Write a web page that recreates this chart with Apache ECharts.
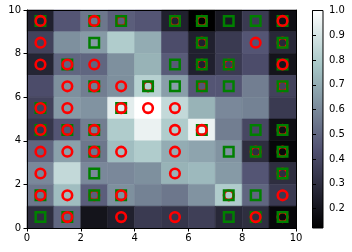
<!DOCTYPE html>
<html>
<head>
<meta charset="utf-8">
<script src="https://cdn.jsdelivr.net/npm/echarts@6/dist/echarts.min.js"></script>
<style>
  html, body { margin: 0; padding: 0; background: #fff; }
  #main { width: 352px; height: 252px; }
</style>
</head>
<body>
<div id="main"></div>
<script>
// distance map, top row (y=9) first, columns x=0..9
var distMap = [
  [0.25, 0.45, 0.55, 0.48, 0.45, 0.25, 0.12, 0.22, 0.35, 0.18],
  [0.38, 0.62, 0.65, 0.80, 0.70, 0.42, 0.25, 0.35, 0.45, 0.28],
  [0.27, 0.50, 0.50, 0.62, 0.72, 0.47, 0.25, 0.35, 0.42, 0.20],
  [0.42, 0.62, 0.57, 0.62, 0.82, 0.66, 0.45, 0.45, 0.57, 0.38],
  [0.38, 0.65, 0.63, 0.93, 1.00, 0.85, 0.72, 0.60, 0.58, 0.35],
  [0.33, 0.45, 0.57, 0.80, 0.95, 0.80, 0.95, 0.57, 0.40, 0.18],
  [0.50, 0.67, 0.55, 0.75, 0.80, 0.70, 0.68, 0.63, 0.30, 0.15],
  [0.60, 0.85, 0.60, 0.60, 0.62, 0.72, 0.74, 0.65, 0.45, 0.30],
  [0.55, 0.75, 0.48, 0.62, 0.58, 0.55, 0.63, 0.80, 0.50, 0.35],
  [0.30, 0.50, 0.20, 0.25, 0.35, 0.33, 0.37, 0.28, 0.30, 0.15]
];
var vMin = 0.122, vMax = 1.0;

// winning cells (x, y)
var circles = [
  [0,9],[2,9],[3,9],[5,9],[6,9],[9,9],
  [0,8],[6,8],[8,8],[9,8],
  [0,7],[1,7],[2,7],[6,7],[7,7],[9,7],
  [1,6],[2,6],[3,6],[4,6],[6,6],[9,6],
  [0,5],[1,5],[3,5],[4,5],[5,5],
  [0,4],[1,4],[2,4],[5,4],[6,4],[9,4],
  [0,3],[1,3],[2,3],[3,3],[5,3],[8,3],[9,3],
  [0,2],[5,2],[9,2],
  [0,1],[1,1],[2,1],[3,1],[7,1],[9,1],
  [1,0],[3,0],[5,0],[8,0],[9,0]
];
var squares = [
  [0,9],[2,9],[3,9],[5,9],[6,9],[7,9],[8,9],[9,9],
  [2,8],[6,8],[9,8],
  [1,7],[5,7],[6,7],[7,7],[9,7],
  [2,6],[4,6],[5,6],[6,6],[7,6],[9,6],
  [0,5],[3,5],
  [0,4],[1,4],[2,4],[6,4],[8,4],[9,4],
  [2,3],[7,3],[8,3],[9,3],
  [2,2],[9,2],
  [0,1],[2,1],[3,1],[7,1],[8,1],
  [0,0],[1,0],[7,0],[8,0],[9,0]
];
// squares drawn over the circle in the same cell
var squaresOnTop = [
  [3,9],[5,9],[6,9],[6,8],[9,8],[6,7],[7,7],[4,6],[6,6],[9,6],
  [9,4],[8,3],[9,3],[9,2],[2,1],[7,1],[9,0]
];
var axisTicks = [0, 2, 4, 6, 8, 10];
var cbarTicks = [0.2, 0.3, 0.4, 0.5, 0.6, 0.7, 0.8, 0.9, 1.0];

// matplotlib 'bone' colormap
function seg(pts, t) {
  for (var i = 1; i < pts.length; i++) {
    if (t <= pts[i][0]) {
      var a = pts[i - 1], b = pts[i];
      return a[1] + (b[1] - a[1]) * (t - a[0]) / (b[0] - a[0]);
    }
  }
  return pts[pts.length - 1][1];
}
function bone(t) {
  var r = seg([[0, 0], [0.746032, 0.652778], [1, 1]], t);
  var g = seg([[0, 0], [0.365079, 0.319444], [0.746032, 0.777778], [1, 1]], t);
  var b = seg([[0, 0], [0.365079, 0.444444], [1, 1]], t);
  return 'rgb(' + Math.round(r * 255) + ',' + Math.round(g * 255) + ',' + Math.round(b * 255) + ')';
}
var boneColors = [], boneStops = [];
for (var i = 0; i <= 40; i++) {
  boneColors.push(bone(i / 40));
  boneStops.push({ offset: 1 - i / 40, color: bone(i / 40) });
}
boneStops.reverse();

var cells = [];
distMap.forEach(function (row, r) {
  row.forEach(function (v, x) { cells.push([x, 9 - r, v]); });
});
function centre(list) {
  return list.map(function (p) { return [p[0] + 0.5, p[1] + 0.5]; });
}
function isTop(p) {
  return squaresOnTop.some(function (q) { return q[0] === p[0] && q[1] === p[1]; });
}
var squaresLow = squares.filter(function (p) { return !isTop(p); });

var font = { fontFamily: 'DejaVu Sans', fontSize: 10, color: '#000' };
var axisLine = { show: true, onZero: false, lineStyle: { color: '#000', width: 1 } };
var tick = { show: true, inside: false, length: 3.5, lineStyle: { color: '#000' } };
var squareStyle = { color: 'transparent', borderColor: '#008000', borderWidth: 2.5, opacity: 1 };
var circleStyle = { color: 'transparent', borderColor: '#ff0000', borderWidth: 2.6, opacity: 1 };

var chart = echarts.init(document.getElementById('main'), null, { renderer: 'canvas' });
chart.setOption({
  animation: false,
  backgroundColor: '#fff',
  grid: [
    { left: 27, top: 10, width: 269, height: 218 },
    { left: 312.5, top: 10.5, width: 10.5, height: 217.5 }
  ],
  xAxis: [
    { type: 'value', gridIndex: 0, min: 0, max: 10, interval: 2, position: 'bottom', z: 10,
      axisLine: axisLine, axisTick: tick, splitLine: { show: false },
      axisLabel: Object.assign({ margin: 5 }, font) },
    { type: 'value', gridIndex: 0, min: 0, max: 10, position: 'top', z: 10,
      axisLine: axisLine, axisTick: { show: false }, axisLabel: { show: false }, splitLine: { show: false } },
    { type: 'value', gridIndex: 1, min: 0, max: 1, show: false }
  ],
  yAxis: [
    { type: 'value', gridIndex: 0, min: 0, max: 10, interval: 2, position: 'left', z: 10,
      axisLine: axisLine, axisTick: tick, splitLine: { show: false },
      axisLabel: Object.assign({ margin: 6 }, font) },
    { type: 'value', gridIndex: 0, min: 0, max: 10, position: 'right', z: 10,
      axisLine: axisLine, axisTick: { show: false }, axisLabel: { show: false }, splitLine: { show: false } },
    { type: 'value', gridIndex: 1, min: vMin, max: vMax, position: 'right', z: 10,
      axisLine: { show: false }, splitLine: { show: false },
      axisTick: Object.assign({ customValues: cbarTicks }, tick),
      axisLabel: Object.assign({ margin: 6, customValues: cbarTicks,
        formatter: function (v) { return v.toFixed(1); } }, font) }
  ],
  visualMap: {
    show: false, type: 'continuous', seriesIndex: 0, dimension: 2,
    min: vMin, max: vMax, inRange: { color: boneColors }
  },
  graphic: [{
    type: 'rect', z: 5,
    shape: { x: 312.5, y: 10.5, width: 10.5, height: 217.5 },
    style: {
      fill: new echarts.graphic.LinearGradient(0, 0, 0, 1, boneStops),
      stroke: '#000', lineWidth: 1
    }
  }],
  series: [
    {
      type: 'custom', xAxisIndex: 0, yAxisIndex: 0, data: cells, z: 1,
      renderItem: function (params, api) {
        var p0 = api.coord([api.value(0), api.value(1) + 1]);
        var p1 = api.coord([api.value(0) + 1, api.value(1)]);
        var c = api.visual('color');
        return { type: 'rect',
          shape: { x: p0[0], y: p0[1], width: p1[0] - p0[0], height: p1[1] - p0[1] },
          style: { fill: c, stroke: c, lineWidth: 0.6 } };
      }
    },
    {
      type: 'scatter', xAxisIndex: 0, yAxisIndex: 0, data: centre(squaresLow), z: 3,
      symbol: 'rect', symbolSize: 9.5, itemStyle: squareStyle, emphasis: { disabled: true }
    },
    {
      type: 'scatter', xAxisIndex: 0, yAxisIndex: 0, data: centre(circles), z: 4,
      symbol: 'circle', symbolSize: 9.6, itemStyle: circleStyle, emphasis: { disabled: true }
    },
    {
      type: 'scatter', xAxisIndex: 0, yAxisIndex: 0, data: centre(squaresOnTop), z: 5,
      symbol: 'rect', symbolSize: 9.5, itemStyle: squareStyle, emphasis: { disabled: true }
    }
  ]
});
</script>
</body>
</html>
